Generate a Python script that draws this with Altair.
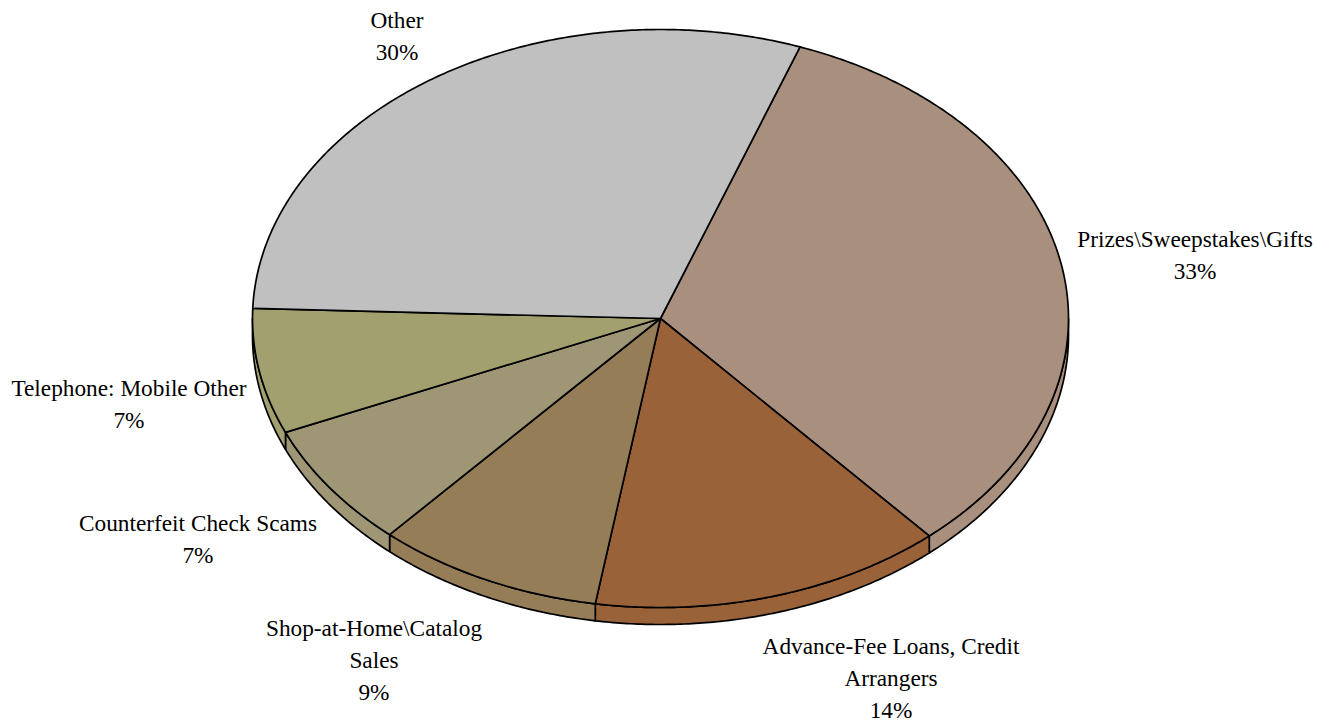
import math
import altair as alt
import pandas as pd

# Share of complaints per category, clockwise from the first slice
categories = ["Prizes\\Sweepstakes\\Gifts", "Advance-Fee Loans, Credit Arrangers",
              "Shop-at-Home\\Catalog Sales", "Counterfeit Check Scams",
              "Telephone: Mobile Other", "Other"]
shares = [33, 14, 9, 7, 7, 30]
slice_colors = ["#A98F7E", "#9A6238", "#957D58", "#9F9676", "#A1A06E", "#C0C0C0"]

label_lines = [["Prizes\\Sweepstakes\\Gifts", "33%"],
               ["Advance-Fee Loans, Credit", "Arrangers", "14%"],
               ["Shop-at-Home\\Catalog", "Sales", "9%"],
               ["Counterfeit Check Scams", "7%"],
               ["Telephone: Mobile Other", "7%"],
               ["Other", "30%"]]
label_x = [1195, 891, 374, 198, 129, 397]
label_y = [240, 647, 629, 524, 389, 21]

W, H = 1328, 721
CX, CY, RX, RY = 660.5, 318.5, 408, 289
DEPTH = 17
START = 20.0
LINE_STEP = 32


def rim(t):
    r = math.radians(t)
    return CX + RX * math.sin(r), CY - RY * math.cos(r)


def sweep(a, b):
    n = max(2, int((b - a) * 2))
    return [a + (b - a) * k / n for k in range(n + 1)]


x_scale = alt.Scale(domain=[0, W], range=[0, W], nice=False, zero=False)
y_scale = alt.Scale(domain=[0, H], range=[0, H], nice=False, zero=False)


def outline(points, color):
    frame = pd.DataFrame({"x": [p[0] for p in points], "y": [p[1] for p in points],
                          "i": range(len(points))})
    return alt.Chart(frame).mark_line(
        fill=color, stroke="black", strokeWidth=1.7, strokeJoin="round", interpolate="linear"
    ).encode(
        x=alt.X("x:Q", scale=x_scale, axis=None),
        y=alt.Y("y:Q", scale=y_scale, axis=None),
        order="i:Q",
    )


walls, tops = [], []
angle = START
for share, color in zip(shares, slice_colors):
    end = angle + share * 3.6
    # Side wall: only the front half of the disc shows its thickness
    a, b = max(angle, 90), min(end, 270)
    if a < b:
        upper = [rim(t) for t in sweep(a, b)]
        lower = [(x, y + DEPTH) for x, y in reversed(upper)]
        walls.append(outline(upper + lower + upper[:1], color))
    arc = [rim(t) for t in sweep(angle, end)]
    tops.append(outline([(CX, CY)] + arc + [(CX, CY)], color))
    angle = end

rows = []
for lines, lx, ly in zip(label_lines, label_x, label_y):
    for k, line in enumerate(lines):
        rows.append({"x": lx, "y": ly + k * LINE_STEP, "text": line})

labels = alt.Chart(pd.DataFrame(rows)).mark_text(
    font="Liberation Serif", fontSize=23.3, color="black", align="center", baseline="middle"
).encode(
    x=alt.X("x:Q", scale=x_scale, axis=None),
    y=alt.Y("y:Q", scale=y_scale, axis=None),
    text="text:N",
)

chart = alt.layer(*walls, *tops, labels).properties(
    width=W, height=H, padding=0, autosize=alt.AutoSizeParams(type="none"), background="white"
).configure_view(stroke=None)

chart.save("out.html", embed_options={"renderer": "svg", "actions": False})
